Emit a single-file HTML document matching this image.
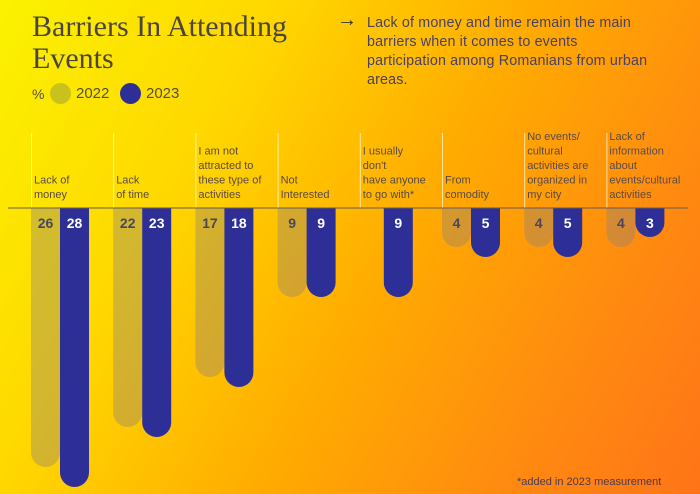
<!DOCTYPE html>
<html><head><meta charset="utf-8"><style>
html,body{margin:0;padding:0}
body{width:700px;height:494px;overflow:hidden;position:relative;font-family:"Liberation Sans",sans-serif;
background:linear-gradient(120deg,#fbf200 0%,#ffd800 28%,#ffab00 55%,#ff8a10 80%,#ff7418 100%);}
.t{position:absolute;color:#555040}
</style></head><body>
<div class="t" style="left:32px;top:11px;font-family:'Liberation Serif',serif;font-size:30px;line-height:32px;color:#4a4540">Barriers In Attending<br>Events</div>
<div class="t" style="left:32px;top:86px;font-size:14px">%</div>
<div style="position:absolute;left:50px;top:83px;width:21px;height:21px;border-radius:50%;background:#c9c21e"></div>
<div class="t" style="left:76px;top:85px;font-size:15px">2022</div>
<div style="position:absolute;left:120px;top:83px;width:21px;height:21px;border-radius:50%;background:#2e2f96"></div>
<div class="t" style="left:146px;top:85px;font-size:15px">2023</div>
<div class="t" style="left:337px;top:9px;font-size:20px;color:#333">→</div>
<div class="t" style="left:367px;top:14px;font-size:14.3px;letter-spacing:0.15px;line-height:19px;color:#4a4060;white-space:nowrap">Lack of money and time remain the main<br>barriers when it comes to events<br>participation among Romanians from urban<br>areas.</div>
<div class="t" style="left:517px;top:476px;font-size:11px;color:#4a3a50">*added in 2023 measurement</div>
<svg id="chart" width="700" height="494" style="position:absolute;left:0;top:0"></svg>
<script>
const categories=[["Lack of","money"],["Lack","of time"],["I am not","attracted to","these type of","activities"],["Not","Interested"],["I usually","don't","have anyone","to go with*"],["From","comodity"],["No events/","cultural","activities are","organized in","my city"],["Lack of","information","about","events/cultural","activities"]];
const values2022=[26,22,17,9,null,4,4,4];
const values2023=[28,23,18,9,9,5,5,3];
const svg=document.getElementById('chart');
const NS='http://www.w3.org/2000/svg';
const baseY=208,x0=31,gw=82.2,bw=29;
const y=v=>baseY-1+v*10;
function xg(i){return x0+i*gw;}
function mk(t,a){const e=document.createElementNS(NS,t);for(const k in a)e.setAttribute(k,a[k]);svg.appendChild(e);return e;}
function bar(x,v,fill,txt,name){
  const b=y(v),r=bw/2;
  const p=mk('path',{d:`M${x},${baseY}H${x+bw}V${b-r}A${r},${r} 0 0 1 ${x},${b-r}Z`,fill:fill});
  
  
  const t=mk('text',{x:x+bw/2,y:baseY+20,'text-anchor':'middle','font-size':14,'font-weight':'bold',fill:txt,'font-family':'Liberation Sans, sans-serif'});
  t.textContent=v;
  
  
}
categories.forEach((lines,i)=>{
  const gx=xg(i);
  const l=mk('line',{x1:gx+0.5,x2:gx+0.5,y1:133,y2:baseY,stroke:'rgba(255,255,220,0.7)','stroke-width':1});
  
  
  const n=lines.length;
  lines.forEach((s,k)=>{
    const t=mk('text',{x:gx+3,y:baseY-10-(n-1-k)*14.5,'font-size':11,fill:'#5a4a45','font-family':'Liberation Sans, sans-serif'});
    t.textContent=s;
    
    
  });
  if(values2022[i]!=null) bar(gx,values2022[i],'rgba(140,130,120,0.38)','#4a4560','bar-2022');
  if(values2023[i]!=null) bar(values2022[i]==null?gx+24:gx+bw,values2023[i],'#2e2f96','#ffffff','bar-2023');
});
const ax=mk('line',{x1:8,x2:688,y1:baseY,y2:baseY,stroke:'#6a5a50','stroke-width':1});


</script>
</body></html>
